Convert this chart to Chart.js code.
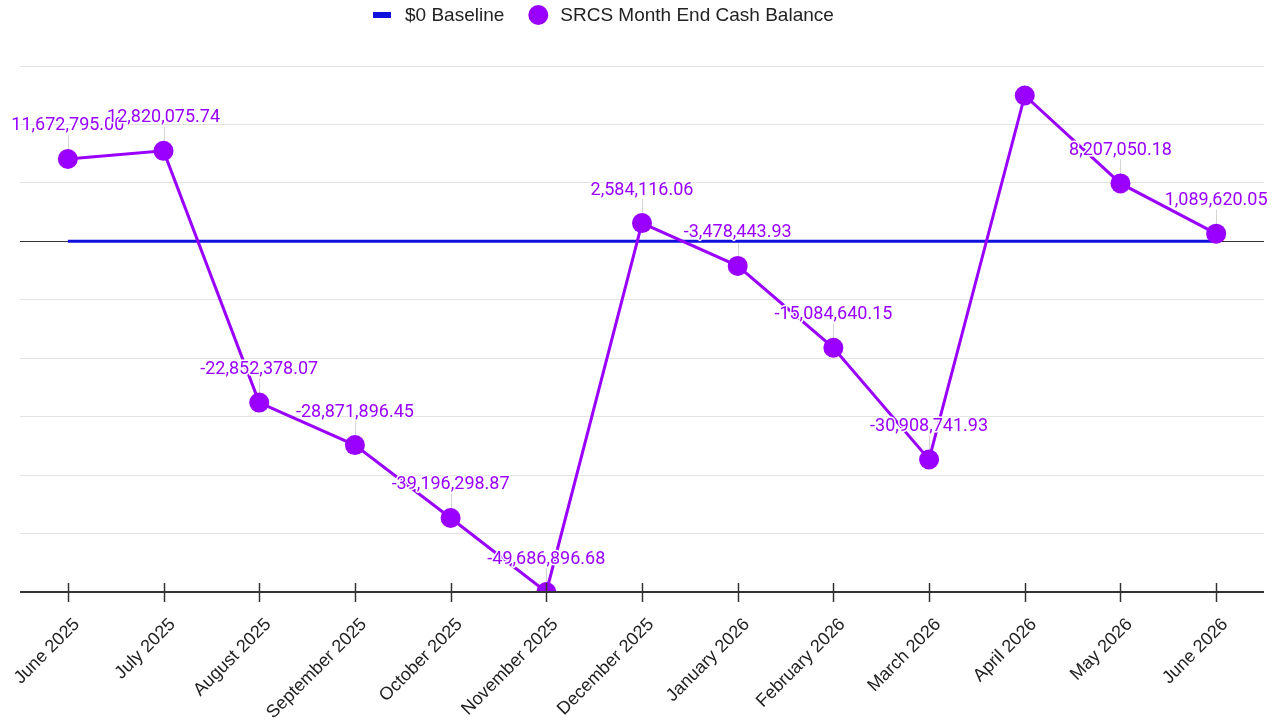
<!DOCTYPE html>
<html>
<head>
<meta charset="utf-8">
<script src="https://cdn.jsdelivr.net/npm/chart.js@4.4.1/dist/chart.umd.min.js"></script>
<style>
    html, body { margin: 0; padding: 0; background: #fff; }
    #wrap { width: 1282px; height: 722px; }
</style>
</head>
<body>
<div id="wrap"><canvas id="cashChart" width="1282" height="722"></canvas></div>
<script>
// chart data
const months = ['June 2025', 'July 2025', 'August 2025', 'September 2025', 'October 2025', 'November 2025',
    'December 2025', 'January 2026', 'February 2026', 'March 2026', 'April 2026', 'May 2026', 'June 2026'];
const cashBalance = [11672795.00, 12820075.74, -22852378.07, -28871896.45, -39196298.87, -49686896.68,
    2584116.06, -3478443.93, -15084640.15, -30908741.93, 20670000, 8207050.18, 1089620.05];
const baseline = [0, 0, 0, 0, 0, 0, 0, 0, 0, 0, 0, 0, 0];
const unlabeledMonths = ['April 2026'];
const legendNames = ['$0 Baseline', 'SRCS Month End Cash Balance'];

const PURPLE = '#9900ff';
const BLUE = '#1111dd';

// axis: 6 gridlines below zero, 3 above
const yMin = Math.min(...cashBalance);
const yStep = -yMin / 6;
const yMax = yStep * 3;

const fmt = v => v.toLocaleString('en-US', { minimumFractionDigits: 2, maximumFractionDigits: 2 });

const overlayPlugin = {
    id: 'overlay',
    beforeDatasetsDraw(chart) {
        // thin stems from the value labels down to the points
        const ctx = chart.ctx;
        const meta = chart.getDatasetMeta(0);
        ctx.save();
        ctx.strokeStyle = '#d4d4d4';
        ctx.lineWidth = 1;
        meta.data.forEach((pt, i) => {
            if (unlabeledMonths.includes(months[i])) return;
            const x = Math.round(pt.x) + 0.5;
            ctx.beginPath();
            ctx.moveTo(x, pt.y - 24);
            ctx.lineTo(x, pt.y);
            ctx.stroke();
        });
        ctx.restore();
    },
    afterDatasetsDraw(chart) {
        const { ctx, chartArea } = chart;
        const xs = chart.scales.x;
        ctx.save();
        // bottom axis + tick marks drawn over the series
        ctx.strokeStyle = '#333';
        ctx.lineWidth = 2;
        ctx.beginPath();
        ctx.moveTo(chartArea.left, chartArea.bottom);
        ctx.lineTo(chartArea.right, chartArea.bottom);
        ctx.stroke();
        ctx.lineWidth = 1.5;
        months.forEach((m, i) => {
            const x = Math.round(xs.getPixelForValue(i)) + 0.5;
            ctx.beginPath();
            ctx.moveTo(x, chartArea.bottom - 9);
            ctx.lineTo(x, chartArea.bottom + 10);
            ctx.stroke();
        });

        // value labels with white halo
        const meta = chart.getDatasetMeta(0);
        ctx.font = '18px Roboto';
        ctx.textAlign = 'center';
        ctx.textBaseline = 'middle';
        ctx.lineJoin = 'round';
        ctx.lineWidth = 3;
        ctx.strokeStyle = '#fff';
        ctx.fillStyle = PURPLE;
        meta.data.forEach((pt, i) => {
            if (unlabeledMonths.includes(months[i])) return;
            const text = fmt(cashBalance[i]);
            ctx.strokeText(text, pt.x, pt.y - 33);
            ctx.fillText(text, pt.x, pt.y - 33);
        });
        ctx.restore();
    },
    afterDraw(chart) {
        // legend
        const ctx = chart.ctx;
        ctx.save();
        ctx.font = '19px "Liberation Sans", Arial, sans-serif';
        ctx.textBaseline = 'middle';
        ctx.textAlign = 'left';
        const y = 15;
        let x = 373;
        ctx.fillStyle = BLUE;
        ctx.fillRect(x, y - 3, 18, 6);
        x += 32;
        ctx.fillStyle = '#222';
        ctx.fillText(legendNames[0], x, y + 1);
        x += ctx.measureText(legendNames[0]).width + 24;
        ctx.fillStyle = PURPLE;
        ctx.beginPath();
        ctx.arc(x + 10, y, 10, 0, Math.PI * 2);
        ctx.fill();
        x += 32;
        ctx.fillStyle = '#222';
        ctx.fillText(legendNames[1], x, y + 1);
        ctx.restore();
    }
};

new Chart(document.getElementById('cashChart'), {
    type: 'line',
    data: {
        labels: months,
        datasets: [
            {
                label: legendNames[1],
                data: cashBalance,
                borderColor: PURPLE,
                backgroundColor: PURPLE,
                borderWidth: 3,
                pointRadius: 10,
                pointHoverRadius: 10,
                pointBorderWidth: 0,
                pointBackgroundColor: PURPLE,
                tension: 0,
                clip: 0,
                order: 0
            },
            {
                label: legendNames[0],
                data: baseline,
                borderColor: BLUE,
                borderWidth: 3,
                pointRadius: 0,
                tension: 0,
                order: 1
            }
        ]
    },
    options: {
        responsive: false,
        animation: false,
        devicePixelRatio: 1,
        layout: { padding: { top: 66, right: 18, left: 0, bottom: 0 } },
        plugins: {
            legend: { display: false },
            tooltip: { enabled: false }
        },
        scales: {
            x: {
                offset: true,
                grid: { display: false },
                border: { display: false },
                ticks: {
                    color: '#222',
                    font: { family: '"Liberation Sans", Arial, sans-serif', size: 18 },
                    maxRotation: 45,
                    minRotation: 45,
                    autoSkip: false,
                    padding: 14,
                    labelOffset: 9
                },
                afterFit(s) {
                    s.height = 130;
                    s.paddingLeft = 0;
                    s.paddingRight = 0;
                }
            },
            y: {
                min: yMin,
                max: yMax,
                afterBuildTicks(s) {
                    const ticks = [];
                    for (let i = -6; i <= 3; i++) ticks.push({ value: i * yStep });
                    s.ticks = ticks;
                },
                ticks: { display: false },
                border: { display: false },
                grid: {
                    color: c => c.tick && c.tick.value === 0 ? '#333' : '#e2e2e2',
                    drawTicks: false,
                    lineWidth: 1
                },
                afterFit(s) {
                    s.width = 20;
                }
            }
        }
    },
    plugins: [overlayPlugin]
});
</script>
</body>
</html>
